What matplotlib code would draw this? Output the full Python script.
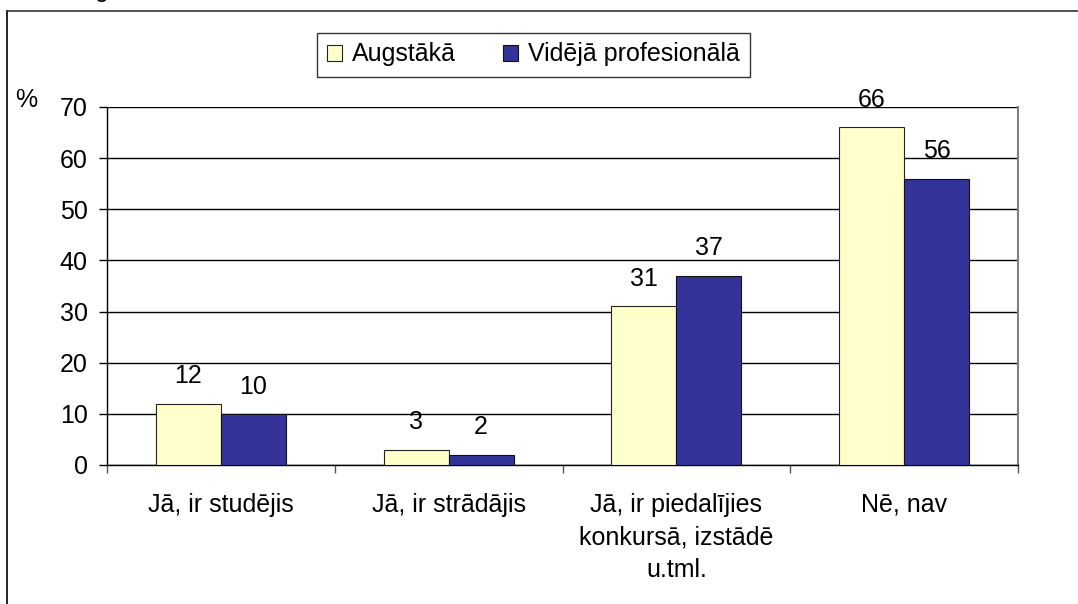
import matplotlib.pyplot as plt
import numpy as np

plt.rcParams['font.family'] = ['Liberation Sans', 'DejaVu Sans']

categories = ["Jā, ir studējis", "Jā, ir strādājis",
              "Jā, ir piedalījies\nkonkursā, izstādē\nu.tml.", "Nē, nav"]
series_names = ["Augstākā", "Vidējā profesionālā"]
augstaka = [12, 3, 31, 66]
videja_prof = [10, 2, 37, 56]
y_ticks = [0, 10, 20, 30, 40, 50, 60, 70]

colors = ["#FFFFCC", "#333399"]
fs = 18

fig = plt.figure(figsize=(10.78, 6.04), dpi=100)
ax = fig.add_axes([107 / 1078, 1 - 465 / 604, 911 / 1078, 358 / 604])

x = np.arange(len(categories))
w = 0.285
bars1 = ax.bar(x - w / 2, augstaka, w, color=colors[0], edgecolor="#222222", linewidth=0.8,
               label=series_names[0], zorder=3)
bars2 = ax.bar(x + w / 2, videja_prof, w, color=colors[1], edgecolor="#111111", linewidth=0.8,
               label=series_names[1], zorder=3)

for bars, vals in ((bars1, augstaka), (bars2, videja_prof)):
    for b, v in zip(bars, vals):
        ax.text(b.get_x() + b.get_width() / 2, v + 3.0, str(v), ha="center", va="bottom",
                fontsize=fs, zorder=4)

ax.set_xlim(-0.5, len(categories) - 0.5)
ax.set_ylim(0, 70)
ax.set_yticks(y_ticks)
ax.yaxis.grid(True, color="black", linewidth=1.0, zorder=0)
ax.set_axisbelow(True)
ax.tick_params(axis="y", direction="out", length=6, width=1, pad=8, labelsize=fs)

# category boundaries get the tick marks, centres get the labels
ax.set_xticks(np.arange(len(categories) + 1) - 0.5)
ax.set_xticklabels([])
ax.set_xticks(x, minor=True)
ax.set_xticklabels(categories, minor=True, fontsize=fs, linespacing=1.45)
ax.tick_params(axis="x", which="major", direction="out", length=6, width=1, color="#555555")
ax.tick_params(axis="x", which="minor", length=0, pad=20)

for s in ("left", "bottom"):
    ax.spines[s].set_color("black")
    ax.spines[s].set_linewidth(1.0)
ax.spines["top"].set_visible(False)
ax.spines["right"].set_color("#808080")
ax.spines["right"].set_linewidth(1.5)

fig.text(15 / 1078, 1 - 100 / 604, "%", fontsize=fs, ha="left", va="center")
fig.text(95 / 1078, 1 + 3 / 604, "g", fontsize=fs, ha="left", va="baseline")

leg = fig.legend(loc="center", bbox_to_anchor=((314 + 753) / 2 / 1078, 1 - 54.5 / 604),
                 ncol=2, fontsize=fs, frameon=True, fancybox=False, handlelength=0.6,
                 handleheight=0.6, handletextpad=0.4, columnspacing=1.9, borderpad=0.4,
                 borderaxespad=0)
leg.get_frame().set_edgecolor("black")
leg.get_frame().set_linewidth(1.0)

# outer frame around the chart area
fig.add_artist(plt.Line2D([7 / 1078, 7 / 1078], [0, 1 - 11 / 604], transform=fig.transFigure,
                          color="black", linewidth=1.2))
fig.add_artist(plt.Line2D([7 / 1078, 1], [1 - 11 / 604, 1 - 11 / 604], transform=fig.transFigure,
                          color="#333333", linewidth=1.2))

fig.savefig("out.png", dpi=100)
